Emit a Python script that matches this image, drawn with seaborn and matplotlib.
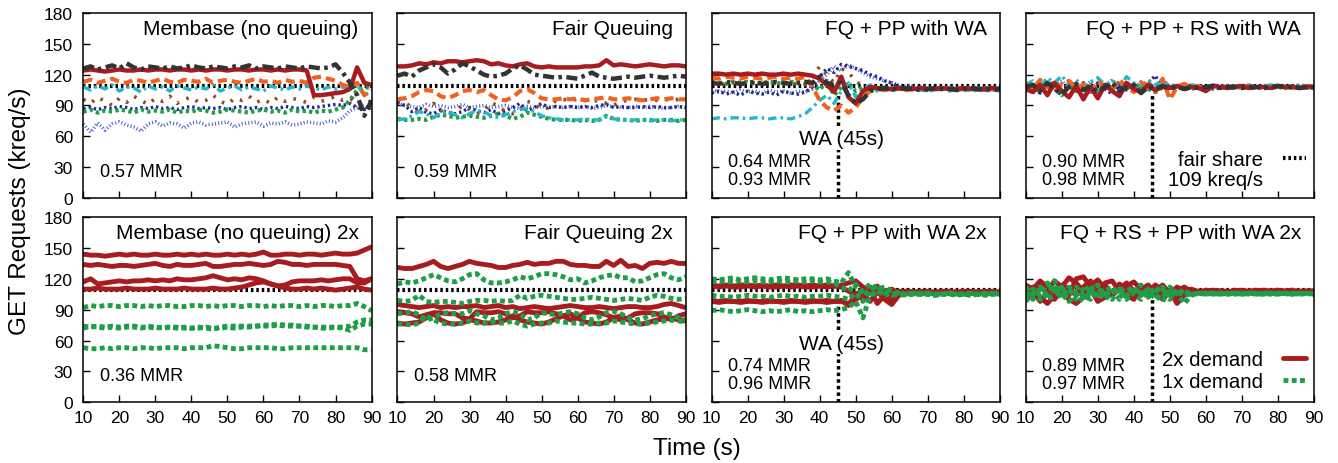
import matplotlib
matplotlib.use('Agg')
from matplotlib import pyplot as plt
from matplotlib.lines import Line2D
import seaborn as sns

# time axis (s), one sample every 2 s
time_s = list(range(10, 91, 2))
fair_share = 109
wa_time = 45
wa_top = 100

titles = ['Membase (no queuing)', 'Fair Queuing', 'FQ + PP with WA', 'FQ + PP + RS with WA',
          'Membase (no queuing) 2x', 'Fair Queuing 2x', 'FQ + PP with WA 2x', 'FQ + RS + PP with WA 2x']
mmr_labels = [['0.57 MMR'], ['0.59 MMR'], ['0.64 MMR', '0.93 MMR'], ['0.90 MMR', '0.98 MMR'],
              ['0.36 MMR'], ['0.58 MMR'], ['0.74 MMR', '0.96 MMR'], ['0.89 MMR', '0.97 MMR']]

# ---- Membase (no queuing), 8 clients
nq_ltblue = [72, 64, 73, 66, 72, 74, 71, 69, 65, 72, 74, 70, 73, 72, 68, 73, 74, 71, 72, 73,
             74, 69, 72, 73, 74, 70, 73, 72, 74, 71, 72, 74, 73, 72, 75, 74, 78, 85, 88, 90, 86]
nq_navy = [87, 88, 86, 88, 87, 89, 88, 86, 88, 87, 89, 87, 88, 86, 88, 89, 87, 88, 87, 88,
           86, 88, 89, 87, 88, 86, 88, 87, 89, 88, 87, 89, 88, 89, 90, 91, 90, 92, 88, 86, 88]
nq_green = [84, 86, 83, 85, 84, 86, 85, 83, 86, 84, 85, 84, 86, 83, 85, 84, 86, 85, 83, 84,
            86, 85, 84, 83, 85, 86, 84, 85, 83, 86, 84, 85, 83, 85, 84, 86, 88, 95, 105, 108, 107]
nq_brown = [96, 92, 98, 94, 90, 97, 93, 99, 95, 91, 97, 94, 99, 92, 96, 98, 93, 95, 100, 94,
            91, 97, 95, 99, 93, 96, 92, 98, 94, 97, 95, 93, 98, 94, 96, 99, 95, 97, 92, 90, 95]
nq_cyan = [108, 105, 109, 106, 110, 104, 108, 107, 103, 109, 106, 108, 104, 109, 107, 105, 108, 106, 110, 104,
           107, 109, 105, 108, 106, 104, 109, 107, 105, 108, 106, 109, 107, 105, 108, 106, 108, 107, 110, 100, 104]
nq_orange = [113, 115, 112, 114, 116, 113, 112, 115, 114, 112, 114, 116, 113, 112, 115, 114, 113, 116, 112, 114,
             115, 113, 112, 114, 116, 113, 114, 112, 115, 113, 114, 112, 117, 118, 116, 114, 110, 108, 112, 100, 105]
nq_red = [124, 125, 124, 123, 124, 125, 124, 124, 125, 124, 125, 125, 124, 125, 125, 124, 125, 124, 125, 125,
          124, 125, 125, 124, 125, 125, 124, 125, 124, 125, 125, 124, 100, 100, 101, 102, 103, 106, 127, 112, 110]
nq_gray = [126, 128, 125, 127, 129, 126, 131, 127, 125, 128, 127, 126, 128, 126, 127, 129, 127, 126, 128, 127,
           126, 128, 127, 129, 126, 128, 127, 126, 128, 127, 126, 128, 127, 126, 127, 130, 122, 112, 100, 80, 95]

# ---- Fair Queuing
fq_ltblue = [92, 90, 89, 88, 91, 89, 90, 88, 89, 91, 88, 89, 90, 88, 89, 90, 88, 87, 89, 88,
             89, 88, 89, 88, 89, 88, 89, 87, 88, 90, 89, 88, 88, 89, 88, 89, 88, 87, 88, 89, 88]
fq_navy = [93, 90, 84, 88, 83, 82, 86, 83, 82, 84, 88, 85, 83, 86, 82, 85, 88, 92, 85, 88,
           92, 88, 89, 88, 89, 88, 89, 88, 90, 91, 88, 89, 88, 88, 89, 88, 89, 88, 88, 89, 88]
fq_green = [77, 76, 76, 77, 76, 79, 81, 80, 78, 79, 80, 79, 78, 80, 82, 80, 77, 79, 83, 81,
            79, 77, 76, 76, 76, 75, 76, 75, 76, 80, 77, 76, 76, 75, 76, 76, 75, 76, 76, 75, 76]
fq_brown = [95, 93, 88, 83, 86, 92, 85, 82, 84, 90, 86, 82, 85, 93, 89, 84, 82, 86, 94, 92,
            86, 88, 95, 96, 95, 96, 95, 94, 95, 92, 90, 94, 95, 96, 95, 96, 95, 96, 95, 96, 96]
fq_cyan = [76, 77, 80, 84, 82, 78, 83, 84, 81, 78, 82, 85, 84, 80, 78, 81, 84, 86, 87, 84,
           80, 78, 77, 76, 76, 76, 77, 76, 76, 79, 77, 76, 75, 76, 76, 75, 76, 76, 75, 76, 76]
fq_orange = [96, 97, 99, 103, 105, 104, 99, 97, 100, 104, 105, 103, 105, 100, 96, 95, 98, 104, 106, 102,
             97, 96, 96, 97, 96, 97, 95, 96, 97, 98, 96, 96, 97, 96, 95, 96, 97, 96, 97, 96, 96]
fq_red = [128, 128, 129, 131, 130, 132, 131, 133, 133, 132, 133, 134, 133, 130, 131, 129, 128, 130, 131, 128,
          127, 128, 127, 127, 127, 127, 128, 128, 129, 134, 129, 130, 129, 128, 129, 130, 129, 128, 129, 129, 128]
fq_gray = [119, 121, 118, 124, 127, 130, 127, 121, 125, 131, 128, 124, 120, 118, 119, 121, 126, 129, 125, 120,
           119, 118, 117, 118, 117, 116, 119, 122, 118, 117, 116, 117, 118, 117, 118, 119, 118, 117, 118, 119, 118]

# ---- FQ + PP with WA
pp_ltblue = [105, 103, 104, 102, 105, 103, 104, 102, 105, 103, 104, 102, 104, 103, 106, 114, 120, 128, 124, 130,
             126, 122, 118, 116, 114, 112, 110, 109, 108, 108, 107, 108, 107, 108, 107, 107, 108, 107, 107, 108, 107]
pp_navy = [102, 104, 101, 103, 100, 104, 102, 101, 103, 100, 104, 102, 101, 103, 108, 118, 126, 122, 130, 128,
           126, 124, 120, 118, 114, 112, 108, 107, 106, 107, 106, 106, 107, 106, 106, 107, 106, 106, 105, 106, 106]
pp_green = [113, 112, 111, 113, 112, 113, 111, 112, 113, 112, 111, 113, 112, 111, 110, 105, 114, 100, 108, 112,
            104, 108, 106, 107, 106, 105, 106, 107, 106, 106, 105, 106, 107, 106, 106, 105, 106, 106, 107, 106, 106]
pp_brown = [111, 112, 110, 112, 111, 110, 112, 111, 110, 112, 111, 110, 112, 111, 118, 128, 120, 112, 126, 122,
            114, 108, 106, 107, 106, 107, 106, 106, 107, 106, 106, 107, 106, 106, 107, 106, 106, 105, 106, 107, 106]
pp_cyan = [77, 78, 77, 78, 78, 77, 78, 78, 77, 78, 78, 77, 79, 82, 88, 95, 100, 92, 104, 112,
           98, 106, 110, 104, 108, 106, 107, 105, 106, 105, 104, 105, 106, 104, 105, 106, 104, 105, 104, 105, 104]
pp_orange = [117, 116, 118, 117, 116, 118, 117, 116, 117, 118, 116, 117, 116, 118, 108, 95, 88, 85, 90, 83,
             88, 98, 104, 106, 105, 107, 106, 105, 106, 107, 105, 106, 106, 107, 105, 106, 107, 106, 105, 106, 106]
pp_red = [121, 121, 120, 121, 120, 121, 120, 121, 120, 120, 121, 120, 121, 120, 119, 116, 110, 103, 118, 98,
          92, 104, 108, 107, 106, 106, 107, 106, 106, 107, 106, 106, 107, 106, 106, 107, 106, 106, 106, 107, 106]
pp_gray = [112, 111, 113, 112, 111, 112, 113, 111, 112, 113, 112, 111, 112, 113, 112, 118, 112, 110, 112, 100,
           92, 96, 104, 106, 107, 106, 106, 107, 106, 105, 106, 107, 106, 106, 105, 106, 107, 106, 106, 105, 106]

# ---- FQ + PP + RS with WA
rs_ltblue = [109, 105, 112, 107, 110, 114, 106, 111, 108, 113, 105, 109, 115, 107, 111, 106, 113, 108, 110, 115,
             108, 109, 108, 107, 109, 108, 109, 108, 108, 109, 108, 109, 108, 108, 109, 108, 109, 108, 108, 109, 108]
rs_navy = [104, 108, 102, 110, 106, 100, 111, 105, 108, 103, 112, 106, 101, 109, 105, 110, 104, 112, 119, 106,
           107, 108, 106, 108, 107, 108, 106, 107, 108, 107, 108, 107, 108, 106, 108, 107, 108, 107, 108, 107, 107]
rs_green = [106, 109, 103, 111, 107, 100, 109, 105, 99, 108, 104, 110, 106, 102, 109, 104, 111, 106, 103, 108,
            107, 108, 107, 106, 108, 107, 108, 107, 108, 107, 108, 107, 107, 108, 107, 108, 107, 108, 107, 108, 107]
rs_brown = [107, 111, 104, 109, 113, 106, 110, 104, 112, 108, 105, 111, 107, 113, 104, 110, 108, 112, 106, 109,
            108, 107, 109, 108, 107, 109, 108, 107, 108, 109, 108, 107, 109, 108, 108, 107, 109, 108, 108, 107, 108]
rs_cyan = [110, 114, 108, 117, 112, 119, 110, 115, 108, 113, 117, 110, 114, 108, 118, 112, 109, 115, 110, 113,
           110, 109, 108, 110, 109, 108, 110, 109, 108, 109, 109, 110, 108, 109, 110, 109, 108, 109, 110, 109, 109]
rs_orange = [112, 106, 115, 108, 103, 111, 114, 107, 110, 104, 113, 109, 106, 115, 108, 103, 112, 110, 104, 116,
             96, 108, 111, 107, 109, 106, 108, 107, 109, 108, 108, 109, 107, 108, 108, 109, 107, 108, 108, 109, 108]
rs_red = [106, 103, 110, 100, 112, 104, 98, 109, 96, 108, 97, 110, 104, 99, 112, 106, 103, 110, 105, 108,
          107, 109, 106, 108, 107, 104, 109, 108, 107, 108, 109, 107, 108, 108, 107, 109, 108, 108, 107, 108, 108]
rs_gray = [108, 110, 104, 112, 106, 101, 108, 111, 105, 109, 103, 108, 112, 104, 107, 110, 102, 108, 106, 109,
           107, 108, 106, 108, 107, 108, 109, 107, 108, 108, 107, 108, 108, 107, 108, 109, 108, 108, 107, 108, 108]

# ---- Membase (no queuing) 2x : 2x-demand (red) and 1x-demand (green) clients
nq2_red1 = [144, 143, 143, 142, 143, 144, 143, 144, 143, 143, 144, 143, 143, 144, 143, 144, 143, 144, 143, 143,
            144, 143, 144, 143, 144, 146, 143, 143, 144, 144, 143, 144, 144, 143, 144, 145, 144, 144, 145, 148, 151]
nq2_red2 = [134, 133, 134, 133, 132, 133, 133, 132, 133, 134, 135, 133, 132, 134, 133, 133, 134, 135, 132, 132,
            133, 134, 134, 135, 134, 133, 134, 137, 136, 134, 134, 133, 134, 134, 134, 134, 133, 132, 120, 118, 120]
nq2_red3 = [117, 120, 115, 116, 117, 118, 117, 118, 118, 119, 118, 119, 118, 120, 119, 119, 120, 121, 123, 121,
            119, 120, 119, 121, 120, 118, 115, 113, 114, 117, 118, 118, 118, 119, 118, 119, 120, 120, 116, 116, 120]
nq2_red4 = [110, 110, 111, 110, 110, 110, 111, 110, 110, 110, 111, 110, 110, 110, 111, 110, 110, 110, 111, 110,
            110, 111, 112, 114, 116, 117, 115, 113, 111, 110, 110, 111, 110, 111, 110, 109, 110, 111, 112, 110, 109]
nq2_grn1 = [92, 94, 93, 94, 94, 93, 94, 94, 93, 94, 93, 94, 94, 93, 93, 94, 94, 93, 94, 93,
            94, 94, 93, 94, 94, 93, 94, 93, 94, 94, 93, 94, 93, 94, 94, 93, 94, 94, 96, 93, 89]
nq2_grn2 = [74, 73, 74, 73, 74, 73, 74, 74, 73, 73, 72, 73, 73, 73, 72, 72, 73, 72, 71, 73,
            74, 74, 74, 74, 74, 75, 75, 76, 75, 75, 74, 74, 73, 73, 73, 73, 73, 74, 78, 80, 80]
nq2_grn3 = [72, 74, 73, 72, 73, 72, 73, 73, 72, 74, 73, 72, 73, 72, 73, 72, 72, 73, 72, 72,
            73, 72, 73, 73, 74, 74, 74, 75, 74, 74, 74, 73, 73, 72, 72, 73, 72, 70, 74, 76, 76]
nq2_grn4 = [53, 52, 52, 53, 52, 53, 53, 52, 53, 53, 52, 53, 53, 53, 52, 53, 53, 53, 55, 54,
            53, 52, 52, 53, 53, 53, 53, 52, 52, 53, 53, 53, 53, 53, 53, 53, 53, 53, 53, 51, 51]

# ---- Fair Queuing 2x
fq2_red1 = [131, 130, 130, 132, 134, 137, 132, 130, 132, 134, 137, 135, 134, 133, 131, 131, 133, 134, 136, 134,
            135, 135, 137, 137, 134, 133, 133, 132, 132, 137, 133, 138, 132, 133, 130, 135, 136, 135, 137, 135, 135]
fq2_red2 = [95, 94, 93, 92, 93, 94, 92, 93, 92, 93, 93, 94, 92, 93, 94, 92, 93, 91, 92, 93,
            92, 91, 92, 93, 94, 93, 92, 92, 93, 92, 91, 92, 93, 93, 92, 92, 93, 95, 96, 94, 92]
fq2_red3 = [88, 87, 86, 83, 85, 87, 87, 86, 86, 82, 81, 88, 87, 87, 88, 86, 82, 84, 88, 87,
            87, 88, 86, 84, 80, 82, 87, 88, 87, 85, 82, 80, 82, 86, 87, 87, 86, 83, 80, 84, 86]
fq2_red4 = [77, 76, 77, 78, 82, 86, 80, 77, 76, 77, 80, 79, 77, 77, 78, 80, 84, 80, 78, 77,
            76, 78, 81, 84, 86, 82, 78, 77, 76, 78, 82, 84, 80, 77, 76, 78, 80, 81, 82, 80, 79]
fq2_grn1 = [115, 117, 116, 118, 121, 124, 121, 118, 117, 120, 124, 125, 119, 116, 116, 117, 119, 122, 120, 122,
            125, 125, 124, 122, 119, 120, 116, 118, 121, 123, 124, 121, 121, 117, 118, 121, 124, 125, 121, 119, 122]
fq2_grn2 = [99, 98, 99, 104, 98, 97, 98, 98, 97, 96, 98, 99, 99, 98, 99, 98, 99, 104, 101, 103,
            104, 103, 102, 101, 100, 100, 101, 102, 101, 100, 99, 100, 101, 100, 99, 102, 104, 103, 101, 100, 101]
fq2_grn3 = [86, 87, 88, 85, 80, 82, 86, 87, 86, 86, 89, 86, 84, 80, 82, 86, 88, 86, 80, 82,
            87, 86, 85, 87, 88, 86, 82, 80, 83, 87, 88, 86, 82, 80, 81, 84, 86, 87, 85, 82, 80]
fq2_grn4 = [76, 76, 75, 77, 84, 80, 77, 76, 76, 77, 79, 77, 77, 78, 77, 77, 79, 76, 74, 76,
            77, 77, 79, 78, 77, 77, 76, 76, 77, 77, 79, 78, 77, 76, 76, 77, 78, 79, 80, 79, 78]

# ---- FQ + PP with WA 2x
pp2_red1 = [114, 113, 114, 113, 114, 114, 113, 114, 113, 114, 113, 114, 114, 113, 114, 113, 114, 113, 114, 116,
            118, 112, 108, 113, 104, 110, 106, 108, 107, 108, 107, 107, 108, 107, 107, 108, 107, 107, 108, 107, 107]
pp2_red2 = [113, 112, 113, 112, 112, 113, 112, 113, 112, 112, 113, 112, 113, 112, 112, 113, 112, 113, 112, 108,
            104, 110, 112, 106, 108, 104, 107, 108, 107, 107, 108, 107, 107, 108, 107, 107, 108, 107, 107, 108, 107]
pp2_red3 = [98, 97, 98, 98, 97, 98, 98, 97, 98, 98, 97, 98, 98, 97, 98, 98, 97, 98, 98, 96,
            100, 104, 98, 108, 100, 95, 104, 106, 107, 106, 107, 106, 107, 106, 107, 106, 106, 107, 106, 107, 106]
pp2_red4 = [99, 98, 99, 98, 98, 99, 98, 98, 99, 98, 98, 99, 98, 98, 99, 98, 99, 98, 99, 94,
            106, 100, 110, 96, 104, 100, 108, 106, 106, 107, 106, 106, 107, 106, 106, 107, 106, 106, 107, 106, 106]
pp2_grn1 = [120, 119, 120, 121, 119, 120, 121, 120, 119, 120, 121, 120, 119, 120, 120, 119, 120, 118, 116, 126,
            112, 108, 115, 110, 112, 108, 106, 105, 106, 105, 106, 105, 105, 106, 105, 105, 106, 105, 105, 106, 105]
pp2_grn2 = [117, 118, 117, 117, 118, 117, 118, 117, 117, 118, 117, 117, 118, 117, 118, 117, 117, 116, 112, 108,
            115, 104, 110, 113, 106, 104, 105, 106, 105, 105, 106, 105, 105, 106, 105, 105, 104, 105, 106, 105, 105]
pp2_grn3 = [104, 103, 103, 102, 103, 104, 103, 103, 102, 103, 104, 103, 103, 102, 103, 103, 104, 103, 102, 100,
            106, 98, 108, 104, 110, 105, 104, 105, 106, 105, 105, 104, 105, 106, 105, 105, 104, 105, 105, 106, 105]
pp2_grn4 = [89, 90, 89, 88, 89, 90, 89, 88, 89, 88, 89, 90, 88, 89, 88, 89, 90, 89, 90, 92,
            98, 82, 104, 108, 104, 106, 105, 104, 105, 106, 105, 104, 105, 105, 104, 105, 106, 105, 104, 105, 105]

# ---- FQ + RS + PP with WA 2x
rs2_red1 = [110, 104, 114, 108, 118, 112, 121, 116, 108, 113, 119, 110, 106, 115, 110, 104, 112, 108, 114, 109,
            105, 112, 108, 110, 107, 109, 108, 108, 107, 109, 108, 108, 107, 108, 108, 109, 108, 107, 108, 108, 108]
rs2_red2 = [100, 108, 98, 106, 100, 110, 104, 120, 122, 112, 104, 116, 118, 108, 113, 117, 110, 106, 111, 104,
            109, 102, 110, 107, 108, 107, 109, 108, 107, 108, 108, 107, 108, 109, 108, 107, 108, 108, 107, 108, 108]
rs2_red3 = [106, 112, 102, 96, 104, 108, 100, 96, 102, 110, 98, 102, 108, 112, 104, 100, 110, 114, 106, 100,
            108, 96, 104, 106, 108, 107, 108, 108, 107, 108, 109, 107, 108, 108, 107, 108, 108, 109, 107, 108, 108]
rs2_red4 = [114, 110, 118, 112, 106, 114, 110, 104, 112, 118, 108, 114, 104, 110, 116, 108, 104, 112, 108, 114,
            106, 108, 112, 108, 107, 108, 107, 108, 108, 107, 108, 108, 109, 107, 108, 108, 107, 108, 108, 107, 108]
rs2_grn1 = [102, 110, 104, 116, 108, 102, 112, 106, 98, 108, 114, 104, 110, 100, 108, 112, 104, 110, 100, 108,
            112, 106, 96, 104, 106, 105, 106, 105, 106, 106, 105, 106, 105, 106, 106, 105, 106, 105, 106, 106, 105]
rs2_grn2 = [108, 100, 112, 104, 114, 100, 106, 112, 104, 100, 110, 106, 100, 112, 104, 108, 114, 102, 108, 112,
            102, 108, 104, 106, 105, 106, 106, 105, 106, 105, 106, 106, 105, 106, 105, 106, 106, 105, 106, 105, 106]
rs2_grn3 = [98, 106, 110, 100, 104, 112, 98, 104, 110, 102, 106, 100, 106, 110, 102, 106, 100, 108, 104, 98,
            110, 104, 108, 105, 106, 105, 106, 106, 105, 106, 105, 106, 106, 105, 106, 105, 106, 106, 105, 106, 106]
rs2_grn4 = [112, 104, 100, 108, 118, 106, 110, 100, 106, 114, 102, 108, 112, 104, 100, 110, 106, 104, 112, 106,
            100, 110, 106, 105, 106, 106, 105, 106, 105, 106, 106, 105, 106, 105, 106, 106, 105, 106, 105, 106, 105]

# line looks: color, width, dash
client_style = {
    'ltblue': ('#5566cc', 2.6, (0, (0.3, 0.6))),
    'navy': ('#22268c', 2.4, (0, (0.7, 0.9))),
    'green': ('#1e9e48', 3.0, (0, (0.8, 0.8))),
    'brown': ('#8e4a1f', 2.6, (0, (0.7, 2.2))),
    'cyan': ('#22b8c6', 2.4, (0, (2.5, 1.2, 0.8, 1.2))),
    'orange': ('#f2621f', 3.0, (0, (2.2, 1.2))),
    'red': ('#a81c1f', 3.2, '-'),
    'gray': ('#333333', 3.2, (0, (2.5, 1.0, 0.8, 1.0))),
}
demand_style = {
    '2x': ('#a81c1f', 3.5, '-'),
    '1x': ('#1e9e48', 3.5, (0, (1.0, 0.7))),
}
fair_dash = (0, (0.6, 0.7))

top_panels = [
    {'ltblue': nq_ltblue, 'navy': nq_navy, 'green': nq_green, 'brown': nq_brown,
     'cyan': nq_cyan, 'orange': nq_orange, 'red': nq_red, 'gray': nq_gray},
    {'ltblue': fq_ltblue, 'navy': fq_navy, 'green': fq_green, 'brown': fq_brown,
     'cyan': fq_cyan, 'orange': fq_orange, 'red': fq_red, 'gray': fq_gray},
    {'ltblue': pp_ltblue, 'navy': pp_navy, 'green': pp_green, 'brown': pp_brown,
     'cyan': pp_cyan, 'orange': pp_orange, 'red': pp_red, 'gray': pp_gray},
    {'ltblue': rs_ltblue, 'navy': rs_navy, 'green': rs_green, 'brown': rs_brown,
     'cyan': rs_cyan, 'orange': rs_orange, 'red': rs_red, 'gray': rs_gray},
]
bottom_panels = [
    ([nq2_red1, nq2_red2, nq2_red3, nq2_red4], [nq2_grn1, nq2_grn2, nq2_grn3, nq2_grn4]),
    ([fq2_red1, fq2_red2, fq2_red3, fq2_red4], [fq2_grn1, fq2_grn2, fq2_grn3, fq2_grn4]),
    ([pp2_red1, pp2_red2, pp2_red3, pp2_red4], [pp2_grn1, pp2_grn2, pp2_grn3, pp2_grn4]),
    ([rs2_red1, rs2_red2, rs2_red3, rs2_red4], [rs2_grn1, rs2_grn2, rs2_grn3, rs2_grn4]),
]

sns.set_style('ticks')
plt.rcParams['font.family'] = ['Liberation Sans', 'DejaVu Sans']
plt.rcParams['font.size'] = 12.5
plt.rcParams['text.color'] = 'black'

fig, axes = plt.subplots(2, 4, figsize=(13.38, 4.64), dpi=100, sharex=True, sharey=True)
fig.subplots_adjust(left=0.0623, right=0.982, top=0.97, bottom=0.131, wspace=0.09, hspace=0.103)


def draw_series(ax, vals, style):
    color, lw, ls = style
    sns.lineplot(x=time_s, y=vals, ax=ax, color=color, lw=lw, linestyle=ls, legend=False)


for i, series in enumerate(top_panels):
    ax = axes[0, i]
    for name, vals in series.items():
        draw_series(ax, vals, client_style[name])

for i, (reds, greens) in enumerate(bottom_panels):
    ax = axes[1, i]
    for vals in reds:
        draw_series(ax, vals, demand_style['2x'])
    for vals in greens:
        draw_series(ax, vals, demand_style['1x'])

for k, ax in enumerate(axes.flat):
    ax.axhline(fair_share, color='black', lw=3, linestyle=fair_dash, zorder=1.8)
    ax.set_xlim(10, 90)
    ax.set_ylim(0, 180)
    ax.set_xticks(range(10, 91, 10))
    ax.set_yticks(range(0, 181, 30))
    ax.tick_params(direction='in', length=5, width=1, labelsize=12.5, colors='black')
    ax.tick_params(axis='x', pad=5.5)
    ax.tick_params(axis='y', pad=7.4)
    for sp in ax.spines.values():
        sp.set_color('black')
        sp.set_linewidth(1.1)
    ax.set_xlabel('')
    ax.set_ylabel('')
    ax.text(0.955, 0.915, titles[k], transform=ax.transAxes, ha='right', va='center', fontsize=15)
    lines = mmr_labels[k]
    if len(lines) == 1:
        ax.text(0.058, 0.145, lines[0], transform=ax.transAxes, ha='left', va='center', fontsize=13)
    else:
        ax.text(0.058, 0.196, lines[0], transform=ax.transAxes, ha='left', va='center', fontsize=13)
        ax.text(0.058, 0.099, lines[1], transform=ax.transAxes, ha='left', va='center', fontsize=13)
    if k % 4 >= 2:
        ax.vlines(wa_time, 0, wa_top, colors='black', linestyles=(0, (1.0, 0.9)), lw=2.5, zorder=1.7)
    if k % 4 == 2:
        ax.text(wa_time + 1, 57.5, 'WA (45s)', ha='center', va='center', zorder=4, fontsize=15,
                bbox=dict(facecolor='white', edgecolor='none', pad=1.0))

fair_handles = [Line2D([], [], color='black', lw=3, linestyle=fair_dash), Line2D([], [], color='none')]
axes[0, 3].legend(fair_handles, ['fair share', '109 kreq/s'], loc='lower right',
                  bbox_to_anchor=(1.0, 0.005), frameon=False, markerfirst=False,
                  handlelength=1.1, handletextpad=1.0, labelspacing=0.05, borderaxespad=0,
                  fontsize=14.7)
demand_handles = [Line2D([], [], color=demand_style['2x'][0], lw=3.5, linestyle='-'),
                  Line2D([], [], color=demand_style['1x'][0], lw=3.5, linestyle=demand_style['1x'][2])]
axes[1, 3].legend(demand_handles, ['2x demand', '1x demand'], loc='lower right',
                  bbox_to_anchor=(1.0, 0.015), frameon=False, markerfirst=False,
                  handlelength=1.1, handletextpad=1.0, labelspacing=0.15, borderaxespad=0,
                  fontsize=14.7)

fig.text(0.015, 0.545, 'GET Requests (kreq/s)', rotation=90, ha='center', va='center', fontsize=17.5)
fig.text(0.521, 0.032, 'Time (s)', ha='center', va='center', fontsize=17.5)

plt.savefig('out.png', dpi=100)
